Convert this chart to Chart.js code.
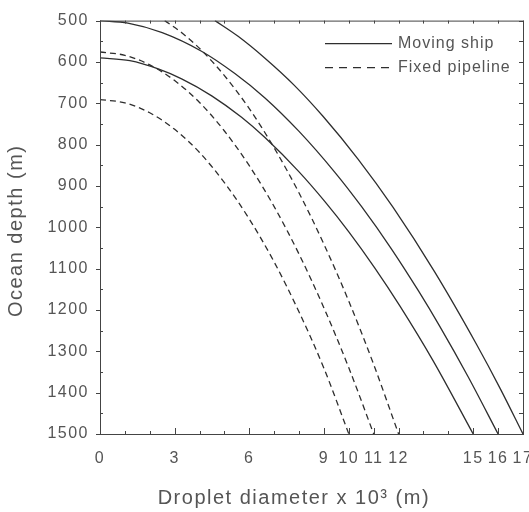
<!DOCTYPE html>
<html>
<head>
<meta charset="utf-8">
<script src="https://cdn.jsdelivr.net/npm/chart.js@4/dist/chart.umd.min.js"></script>
<style>
  html, body { margin: 0; padding: 0; background: #fff; }
  #wrap { width: 529px; height: 512px; }
</style>
</head>
<body>
<div id="wrap"><canvas id="depthChart"></canvas></div>
<script>
// droplet diameter (x 10^3 m) against ocean depth (m)
const ship1Diam  = [4.62, 5.55, 6.63, 7.8, 8.97, 10.37, 11.78, 13.45, 15.13, 16.1, 17];
const ship1Depth = [500, 538, 591, 656, 732, 835, 952, 1108, 1283, 1392, 1500];

const ship2Diam  = [0, 1.12, 2.5, 4.08, 5.42, 6.63, 8, 9.44, 10.5, 11.71, 12.8, 13.65, 14.8, 16];
const ship2Depth = [500, 506, 529, 574, 628, 687, 768, 867, 949, 1052, 1154, 1239, 1362, 1500];

const ship3Diam  = [0, 1.2, 2.34, 3.28, 4.49, 5.69, 6.63, 8, 9.04, 10, 11.04, 12.05, 13.39, 15];
const ship3Depth = [590, 597, 617, 641, 682, 734, 783, 866, 938, 1011, 1098, 1190, 1323, 1500];

const pipe1Diam  = [2.6, 3.3, 4.08, 5, 6, 7, 8, 9, 10, 11, 12];
const pipe1Depth = [500, 530, 572, 633, 713, 808, 917, 1041, 1179, 1332, 1500];

const pipe2Diam  = [0, 1, 2, 3, 4, 5, 6, 7, 8, 9, 10, 11];
const pipe2Depth = [576, 584, 607, 645, 698, 767, 851, 950, 1065, 1195, 1340, 1500];

const pipe3Diam  = [0, 1, 2, 3, 4, 5, 6, 7, 8, 9, 10];
const pipe3Depth = [691, 699, 723, 763, 819, 892, 980, 1084, 1205, 1341, 1500];

const xTickValues = [0, 3, 6, 9, 10, 11, 12, 15, 16, 17];
const legendLabels = ['Moving ship', 'Fixed pipeline'];

const lineColor = '#2e2e2e';
const textColor = '#555';
const fontFamily = '"Liberation Sans", Arial, sans-serif';
const solid = [];
const dashed = [6, 4];

const curves = [
  { diam: ship1Diam, depth: ship1Depth, dash: solid },
  { diam: ship2Diam, depth: ship2Depth, dash: solid },
  { diam: ship3Diam, depth: ship3Depth, dash: solid },
  { diam: pipe1Diam, depth: pipe1Depth, dash: dashed },
  { diam: pipe2Diam, depth: pipe2Depth, dash: dashed },
  { diam: pipe3Diam, depth: pipe3Depth, dash: dashed }
];

const datasets = curves.map(c => ({
  data: c.diam.map((d, i) => ({ x: d, y: c.depth[i] })),
  showLine: true,
  borderColor: lineColor,
  borderWidth: 1.3,
  borderDash: c.dash,
  pointRadius: 0,
  fill: false,
  cubicInterpolationMode: 'monotone'
}));

// the original lettering is spaced out a little
const spacedText = {
  id: 'spacedText',
  beforeDraw(chart) { chart.ctx.letterSpacing = '1.5px'; }
};

// frame plus tick marks on all four sides
const frameTicks = {
  id: 'frameTicks',
  afterDraw(chart) {
    const { ctx, chartArea: a, scales: { x, y } } = chart;
    ctx.save();
    ctx.strokeStyle = '#444';
    ctx.lineWidth = 1;
    ctx.strokeRect(a.left + 0.5, a.top + 0.5, a.right - a.left, a.bottom - a.top);
    ctx.beginPath();
    for (let v = x.min; v <= x.max; v++) {
      const px = Math.round(x.getPixelForValue(v)) + 0.5;
      const len = xTickValues.includes(v) ? 6 : 3;
      ctx.moveTo(px, a.bottom); ctx.lineTo(px, a.bottom - len);
      ctx.moveTo(px, a.top); ctx.lineTo(px, a.top + 3);
    }
    for (let v = y.min; v <= y.max; v += 50) {
      const py = Math.round(y.getPixelForValue(v)) + 0.5;
      if (v % 100 === 0) {
        ctx.moveTo(a.left - 4, py); ctx.lineTo(a.left, py);
      } else {
        ctx.moveTo(a.left, py); ctx.lineTo(a.left + 3, py);
      }
      ctx.moveTo(a.right, py); ctx.lineTo(a.right - 4, py);
    }
    ctx.stroke();
    ctx.restore();
  }
};

// small legend inside the top right corner
const insetLegend = {
  id: 'insetLegend',
  afterDraw(chart) {
    const { ctx, chartArea: a } = chart;
    ctx.save();
    ctx.letterSpacing = '1px';
    ctx.font = '16px ' + fontFamily;
    ctx.fillStyle = textColor;
    ctx.textBaseline = 'middle';
    legendLabels.forEach((label, i) => {
      const y = a.top + 23 + i * 24;
      ctx.strokeStyle = lineColor;
      ctx.lineWidth = 1.3;
      ctx.setLineDash(i === 0 ? solid : [8, 6]);
      ctx.beginPath();
      ctx.moveTo(a.right - 198, y);
      ctx.lineTo(a.right - 131, y);
      ctx.stroke();
      ctx.fillText(label, a.right - 125, y);
    });
    ctx.restore();
  }
};

new Chart(document.getElementById('depthChart'), {
  type: 'scatter',
  data: { datasets },
  options: {
    responsive: true,
    maintainAspectRatio: false,
    animation: false,
    layout: { padding: { top: 15, right: 6, bottom: 0, left: 0 } },
    plugins: { legend: { display: false }, tooltip: { enabled: false } },
    scales: {
      x: {
        type: 'linear',
        min: 0,
        max: 17,
        afterBuildTicks: s => { s.ticks = xTickValues.map(v => ({ value: v })); },
        afterFit: s => { s.height = 78; s.paddingLeft = 0; s.paddingRight = 0; },
        grid: { display: false, drawTicks: false },
        border: { display: false },
        ticks: {
          autoSkip: false,
          maxRotation: 0,
          padding: 15,
          color: textColor,
          font: { family: fontFamily, size: 16 }
        },
        title: {
          display: true,
          text: 'Droplet diameter x 10³ (m)     ',
          color: textColor,
          padding: { top: 0, bottom: 2 },
          font: { family: fontFamily, size: 20 }
        }
      },
      y: {
        type: 'linear',
        reverse: true,
        min: 500,
        max: 1500,
        afterFit: s => { s.width = 100; },
        grid: { display: false, drawTicks: false },
        border: { display: false },
        ticks: {
          stepSize: 100,
          padding: 11,
          color: textColor,
          font: { family: fontFamily, size: 16 },
          callback: v => String(v)
        },
        title: {
          display: true,
          text: 'Ocean depth (m) ',
          color: textColor,
          padding: { top: 4, bottom: 0 },
          font: { family: fontFamily, size: 20 }
        }
      }
    }
  },
  plugins: [spacedText, frameTicks, insetLegend]
});
</script>
</body>
</html>
